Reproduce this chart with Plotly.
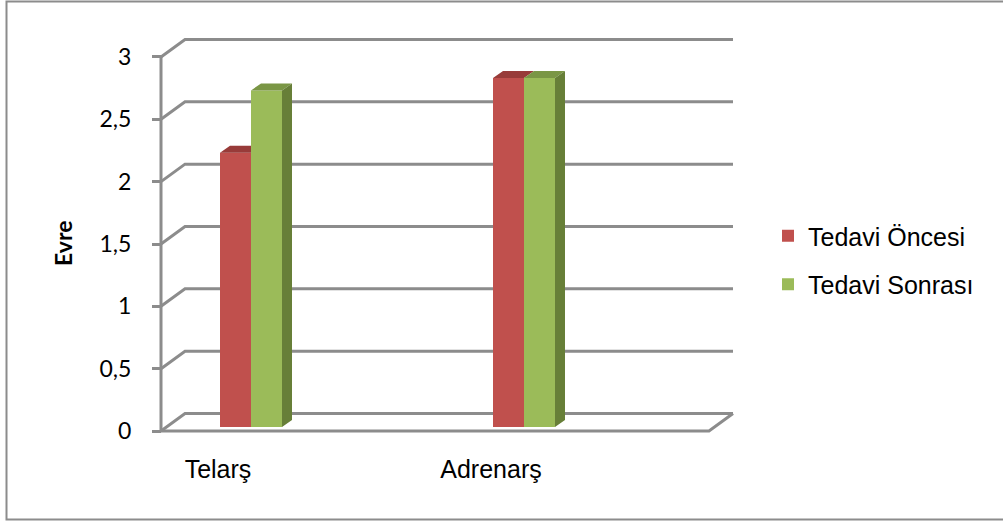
import plotly.graph_objects as go

# ---- data ----
categories = ["Telarş", "Adrenarş"]
series_names = ["Tedavi Öncesi", "Tedavi Sonrası"]
tedavi_oncesi = [2.2, 2.8]
tedavi_sonrasi = [2.7, 2.8]
y_ticks = [0, 0.5, 1, 1.5, 2, 2.5, 3]
y_title = "Evre"

series_values = [tedavi_oncesi, tedavi_sonrasi]

# ---- styles ----
front_colors = ["#C0504D", "#9BBB59"]
top_colors = ["#983B39", "#7A9645"]
side_colors = ["#8A3532", "#677F38"]
grid_color = "#8C8C8C"

W, H = 1003, 521
PX_CAT = 273.0     # pixels between category centres
CAT0_PX = 251.0    # pixel x of first category centre
PX_UNIT = 124.67   # pixels per value unit
ZERO_PX = 431.0    # pixel y of value 0 on the front wall


def cx(px):
    return px / PX_CAT


def vy(px):
    return px / PX_UNIT


x_range = [(0 - CAT0_PX) / PX_CAT, (W - CAT0_PX) / PX_CAT]
y_range = [-(H - ZERO_PX) / PX_UNIT, ZERO_PX / PX_UNIT]

front_left = (161 - CAT0_PX) / PX_CAT
front_right = (709 - CAT0_PX) / PX_CAT
back_dx, back_dy = cx(24), vy(17.5)
bar_w = cx(31)
top_dx, top_dy = cx(10), vy(7)
bar_base = vy(4)
n_series = len(series_values)
x_pos = list(range(len(categories)))

fig = go.Figure()

# front faces of the bars
for k, vals in enumerate(series_values):
    fig.add_trace(go.Bar(
        x=x_pos, y=vals, base=[bar_base] * len(vals), name=series_names[k],
        marker=dict(color=front_colors[k], line=dict(width=0)),
        legendgroup=series_names[k], hoverinfo="skip",
    ))

# top and side faces (3D look)
for k, vals in enumerate(series_values):
    tx, ty, sx, sy = [], [], [], []
    for i, v in enumerate(vals):
        x0 = x_pos[i] - n_series * bar_w / 2 + k * bar_w
        x1 = x0 + bar_w
        b = bar_base
        t = b + v
        nxt = series_values[k + 1][i] if k + 1 < n_series else None
        if nxt is not None and nxt > v:
            tx += [x0, x1, x1, x0 + top_dx, x0, None]
            ty += [t, t, t + top_dy, t + top_dy, t, None]
        else:
            tx += [x0, x1, x1 + top_dx, x0 + top_dx, x0, None]
            ty += [t, t, t + top_dy, t + top_dy, t, None]
        if nxt is None:
            sx += [x1, x1, x1 + top_dx, x1 + top_dx, x1, None]
            sy += [b, t, t + top_dy, b + top_dy, b, None]
    fig.add_trace(go.Scatter(x=tx, y=ty, mode="lines", fill="toself",
                             fillcolor=top_colors[k], line=dict(width=0),
                             showlegend=False, hoverinfo="skip"))
    if sx:
        fig.add_trace(go.Scatter(x=sx, y=sy, mode="lines", fill="toself",
                                 fillcolor=side_colors[k], line=dict(width=0),
                                 showlegend=False, hoverinfo="skip"))

# walls / gridlines
shapes = []
line = dict(color=grid_color, width=3)
for v in y_ticks:
    path = "M {},{} L {},{} L {},{}".format(
        front_left, v, front_left + back_dx, v + back_dy,
        front_right + back_dx, v + back_dy)
    shapes.append(dict(type="path", path=path, xref="x", yref="y",
                       line=line, layer="below"))
shapes.append(dict(type="path", xref="x", yref="y", layer="below", line=line,
                   path="M {},{} L {},{} L {},{}".format(
                       front_left, 0, front_right, 0,
                       front_right + back_dx, back_dy)))
shapes.append(dict(type="line", xref="x", yref="y", layer="below", line=line,
                   x0=front_left, x1=front_left, y0=0, y1=max(y_ticks)))
# chart border
shapes.append(dict(type="rect", xref="paper", yref="paper",
                   x0=6.5 / W, x1=1.05, y0=1.5 / H, y1=1 - 1.5 / H,
                   line=dict(color=grid_color, width=2), layer="below"))

fig.update_layout(
    width=W, height=H,
    margin=dict(l=0, r=0, t=0, b=0, pad=0),
    paper_bgcolor="white", plot_bgcolor="white",
    separators=", ",
    barmode="group", bargap=1 - n_series * bar_w, bargroupgap=0,
    shapes=shapes,
    showlegend=True,
    legend=dict(x=768 / W, y=(H - 260) / H, xanchor="left", yanchor="middle",
                font=dict(family="Liberation Sans, Arial", size=25, color="black"),
                bgcolor="rgba(0,0,0,0)", traceorder="grouped", tracegroupgap=13),
    xaxis=dict(range=x_range, showgrid=False, zeroline=False, showline=False,
               tickvals=x_pos, ticktext=categories, ticks="",
               anchor="free", position=(H - ZERO_PX) / H,
               ticklabelshift=-33, ticklabelstandoff=21,
               tickfont=dict(family="Liberation Sans, Arial", size=25, color="black"),
               fixedrange=True),
    yaxis=dict(range=y_range, showgrid=False, zeroline=False, showline=False,
               tickvals=y_ticks, ticks="outside", ticklen=9, tickwidth=3,
               tickcolor=grid_color, anchor="free",
               position=(161 - 0) / W,
               ticklabelstandoff=16,
               tickfont=dict(family="Lato", size=23, color="black"),
               fixedrange=True),
    annotations=[dict(text="<b>" + y_title + "</b>", xref="paper", yref="paper",
                      x=63 / W, y=(H - 243) / H, xanchor="center", yanchor="middle",
                      showarrow=False, textangle=-90,
                      font=dict(family="Lato", size=23, color="black"))],
)

fig.write_html("out.html")
